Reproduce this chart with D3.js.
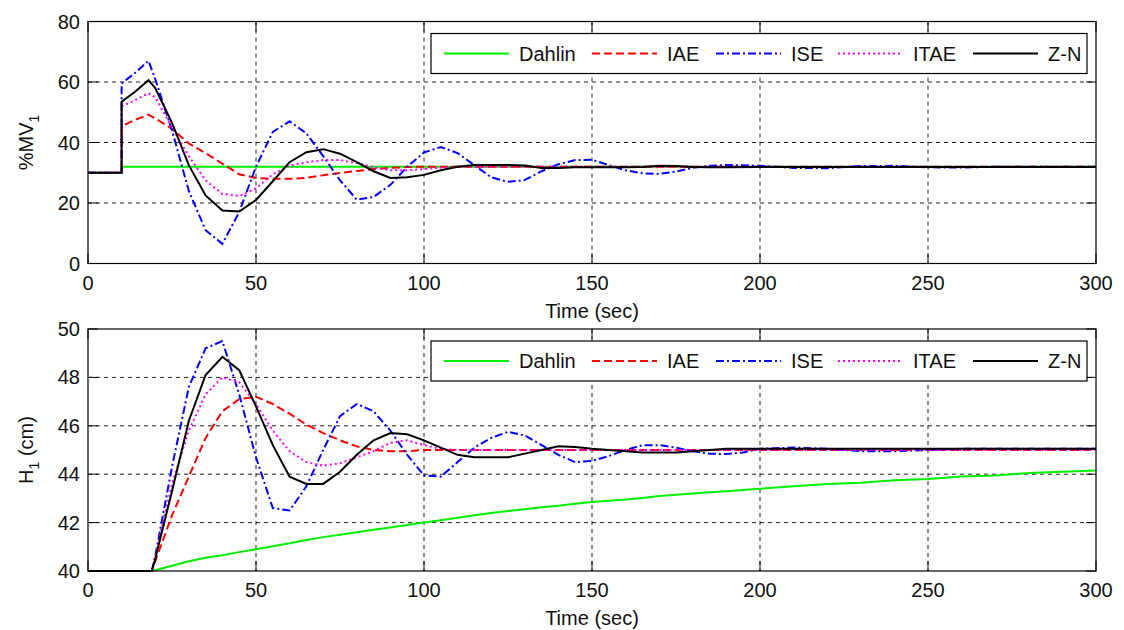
<!DOCTYPE html>
<html>
<head>
<meta charset="utf-8">
<script src="https://cdn.jsdelivr.net/npm/d3@7"></script>
<style>
  body { margin: 0; background: #fff; }
  text { font-family: "Liberation Sans", Arial, sans-serif; fill: #111; }
</style>
</head>
<body>
<div class="home"></div>
<script>
// series names + legend
const names = ["Dahlin", "IAE", "ISE", "ITAE", "Z-N"];
const colors = ["#00f000", "#ff0000", "#0000ff", "#ff00ff", "#000000"];
const dashes = [null, "8,4", "8,3,2,3", "2,3", null];

// top plot: %MV1 vs time
const mvTime = [0,10,10,14,18,20,25,30,35,40,45,50,55,60,65,70,75,80,85,90,95,100,105,110,115,120,125,130,135,140,145,150,155,160,165,170,175,180,185,190,200,210,220,230,240,250,260,270,280,290,300];
const mvDahlin = [30,30,32,32,32,32,32,32,32,32,32,32,32,32,32,32,32,32,32,32,32,32,32,32,32,32,32,32,32,32,32,32,32,32,32,32,32,32,32,32,32,32,32,32,32,32,32,32,32,32,32];
const mvIAE = [30,30,45.4,47.5,49.2,48,44.5,39.7,36.5,33,29.5,28.3,28,28,28.3,29.2,29.9,30.6,31.2,31.6,31.9,32,32,32,32,32,32,32,32,32,32,32,32,32,32,32,32,32,32,32,32,32,32,32,32,32,32,32,32,32,32];
const mvISE = [30,30,59.5,63,67,61,44,24,11,6.5,17,32,43.5,47,43,35.5,27.5,21.1,22,26,32,36.7,38.5,36.5,32.5,28.5,27,27.6,30.5,32.8,34.2,34.3,32.5,30.8,29.8,29.6,30.4,31.6,32.3,32.6,32.3,31.6,31.5,32.2,32.3,31.8,31.7,32,32,32,32];
const mvITAE = [30,30,51.9,54,56.3,55,45,35.5,27.5,23,22.3,24.8,29.5,32.3,33.5,34.2,34.2,33.2,31.8,30.8,30.8,31.2,31.7,32,32,32,32,32,32,32,32,32,32,32,32,32,32,32,32,32,32,32,32,32,32,32,32,32,32,32,32];
const mvZN = [30,30,53.5,56.8,60.6,58,46.5,32.5,22.5,17.5,17.2,21,27.2,33.5,36.8,37.8,36.3,33.5,30.5,28.3,28.5,29.3,30.8,32,32.6,32.6,32.6,32.4,31.6,31.6,31.8,31.8,31.8,31.8,31.9,32.3,32.2,31.9,31.8,31.8,31.9,31.9,31.9,31.9,31.9,31.9,31.9,31.9,31.9,31.9,31.9];

// bottom plot: H1 (cm) vs time
const hTime = [0,19,20,25,30,35,40,45,50,55,60,65,70,75,80,85,90,95,100,105,110,115,120,125,130,135,140,145,150,155,160,165,170,175,180,185,190,195,200,210,220,230,240,250,260,270,280,290,300];
const hDahlin = [40,40,40.03,40.22,40.4,40.55,40.65,40.78,40.9,41.02,41.15,41.28,41.4,41.5,41.6,41.7,41.8,41.9,42,42.1,42.2,42.3,42.4,42.48,42.55,42.63,42.7,42.78,42.85,42.9,42.95,43.02,43.1,43.15,43.2,43.25,43.3,43.35,43.4,43.5,43.6,43.65,43.75,43.8,43.9,43.95,44.05,44.1,44.15];
const hIAE = [40,40,40.4,42.3,43.9,45.5,46.6,47.1,47.2,46.9,46.5,46.05,45.7,45.4,45.15,45,44.95,44.95,45,45,45,45,45,45,45,45,45,45,45,45,45,45,45,45,45,45,45,45,45,45,45,45,45,45,45,45,45,45,45];
const hISE = [40,40,40.6,44.3,47.6,49.2,49.5,47.3,44.7,42.6,42.5,43.5,45,46.4,46.9,46.6,45.8,44.8,43.95,43.9,44.5,45.1,45.5,45.75,45.6,45.2,44.8,44.5,44.55,44.75,45,45.2,45.2,45.1,44.95,44.85,44.83,44.9,45.05,45.1,45.05,44.95,44.95,45,45.05,45.05,45.05,45.05,45.05];
const hITAE = [40,40,40.6,43.6,45.8,47.3,48,47.8,46.9,45.8,44.95,44.5,44.35,44.45,44.7,44.95,45.3,45.4,45.2,45.05,45,45,45,45,45,45,45,45,45,45,45,45,45,45,45,45,45,45,45,45,45,45,45,45,45,45,45,45,45];
const hZN = [40,40,40.5,43.3,46.2,48.1,48.85,48.3,46.8,45.2,43.9,43.6,43.6,44.1,44.8,45.4,45.7,45.65,45.4,45.1,44.8,44.7,44.7,44.7,44.85,45,45.15,45.12,45.05,45,44.95,44.9,44.9,44.9,44.95,45,45.05,45.05,45.05,45.05,45.05,45.05,45.05,45.05,45.05,45.05,45.05,45.05,45.05];

const xTicks = [0,50,100,150,200,250,300];
const mvTicks = [0,20,40,60,80];
const hTicks = [40,42,44,46,48,50];

const width = 1124, height = 630;
const left = 88, right = 1096;

const svg = d3.select(".home").append("svg")
  .attr("width", width)
  .attr("height", height);

function drawPanel(top, bottom, time, series, yDomain, yTicks, yLabel, ySub, yLabelRest) {
  const x = d3.scaleLinear().domain([0, 300]).range([left, right]);
  const y = d3.scaleLinear().domain(yDomain).range([bottom, top]);
  const g = svg.append("g");

  // dashed grid
  g.selectAll(".gx").data(xTicks.slice(1, -1)).enter().append("line")
    .attr("x1", d => x(d)).attr("x2", d => x(d))
    .attr("y1", top).attr("y2", bottom)
    .style("stroke", "#222").style("stroke-dasharray", "4,4");
  g.selectAll(".gy").data(yTicks.slice(1, -1)).enter().append("line")
    .attr("x1", left).attr("x2", right)
    .attr("y1", d => y(d)).attr("y2", d => y(d))
    .style("stroke", "#222").style("stroke-dasharray", "4,4");

  // inward ticks on all sides (matlab style)
  const tl = 10;
  xTicks.forEach(t => {
    g.append("line").attr("x1", x(t)).attr("x2", x(t)).attr("y1", bottom).attr("y2", bottom - tl).style("stroke", "#000");
    g.append("line").attr("x1", x(t)).attr("x2", x(t)).attr("y1", top).attr("y2", top + tl).style("stroke", "#000");
  });
  yTicks.forEach(t => {
    g.append("line").attr("x1", left).attr("x2", left + tl).attr("y1", y(t)).attr("y2", y(t)).style("stroke", "#000");
    g.append("line").attr("x1", right).attr("x2", right - tl).attr("y1", y(t)).attr("y2", y(t)).style("stroke", "#000");
  });

  // curves
  const line = d3.line().x((d, i) => x(time[i])).y(d => y(d));
  series.forEach((s, i) => {
    g.append("path")
      .datum(s)
      .attr("d", line)
      .style("fill", "none")
      .style("stroke", colors[i])
      .style("stroke-width", 2)
      .style("stroke-dasharray", dashes[i]);
  });

  // frame
  g.append("rect")
    .attr("x", left).attr("y", top)
    .attr("width", right - left).attr("height", bottom - top)
    .style("fill", "none").style("stroke", "#000").style("stroke-width", 1.2);

  // tick labels
  g.selectAll(".xl").data(xTicks).enter().append("text")
    .attr("x", d => x(d)).attr("y", bottom + 26)
    .style("text-anchor", "middle").style("font-size", "20px")
    .text(d => d);
  g.selectAll(".yl").data(yTicks).enter().append("text")
    .attr("x", left - 8).attr("y", d => y(d))
    .attr("dy", "0.35em")
    .style("text-anchor", "end").style("font-size", "20px")
    .text(d => d);

  // axis labels
  g.append("text")
    .attr("x", (left + right) / 2).attr("y", bottom + 54)
    .style("text-anchor", "middle").style("font-size", "20px")
    .text("Time (sec)");

  const yl = g.append("text")
    .attr("transform", "translate(33," + ((top + bottom) / 2) + ") rotate(-90)")
    .style("text-anchor", "middle").style("font-size", "20px");
  yl.append("tspan").text(yLabel);
  yl.append("tspan").attr("dy", 6).style("font-size", "14px").text(ySub);
  if (yLabelRest) yl.append("tspan").attr("dy", -6).text(yLabelRest);

  // legend
  const lgTop = top + 12, lgH = 40;
  const lg = g.append("g");
  lg.append("rect")
    .attr("x", 431).attr("y", lgTop).attr("width", 656).attr("height", lgH)
    .style("fill", "#fff").style("stroke", "#000").style("stroke-width", 1.2);
  const lineX = [444, 592, 716, 838, 973];
  names.forEach((n, i) => {
    lg.append("line")
      .attr("x1", lineX[i]).attr("x2", lineX[i] + 65)
      .attr("y1", lgTop + lgH / 2).attr("y2", lgTop + lgH / 2)
      .style("stroke", colors[i]).style("stroke-width", 2)
      .style("stroke-dasharray", dashes[i]);
    lg.append("text")
      .attr("x", lineX[i] + 75).attr("y", lgTop + lgH / 2 + 7)
      .style("font-size", "20px")
      .text(n);
  });
}

drawPanel(21.5, 263.5, mvTime, [mvDahlin, mvIAE, mvISE, mvITAE, mvZN], [0, 80], mvTicks, "%MV", "1", null);
drawPanel(329, 571, hTime, [hDahlin, hIAE, hISE, hITAE, hZN], [40, 50], hTicks, "H", "1", " (cm)");
</script>
</body>
</html>
